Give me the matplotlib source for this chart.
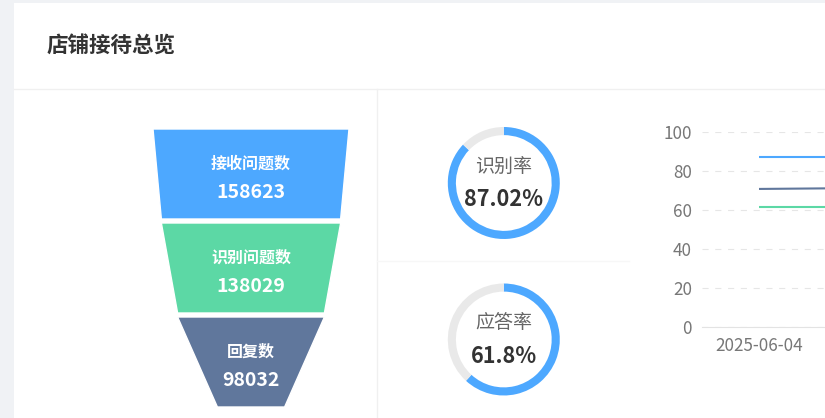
import matplotlib
matplotlib.use("Agg")  # no display in the sandbox
import matplotlib.pyplot as plt
from matplotlib.patches import Polygon, Rectangle

plt.rcParams['font.family'] = ['Noto Sans CJK SC', 'DejaVu Sans']

W, H = 825, 418

# --- Data ---
TITLE = "店铺接待总览"
funnel_labels = ["接收问题数", "识别问题数", "回复数"]
funnel_values = [158623, 138029, 98032]
rate_labels = ["识别率", "应答率"]
rate_values = [87.02, 61.8]
dates = ["2025-06-04", "2025-06-05"]
trend_recognize = [87.02, 87.02]
trend_other = [70.8, 71.3]
trend_reply = [61.4, 61.4]
y_ticks = [0, 20, 40, 60, 80, 100]

# --- Style ---
BLUE = "#4da8ff"
GREEN = "#5cd8a5"
SLATE = "#60779c"
TRACK = "#e9e9e9"
PAGE_BG = "#f0f2f5"
SEP = "#f0f0f0"
FUNNEL_MIN_FRAC = 0.343  # width of a zero value relative to the largest piece
FUNNEL_GAP = 4 / 94


def px_axes(fig, x0, y0, x1, y1):
    """Axes placed by pixel box (top-left origin)."""
    return fig.add_axes([x0 / W, 1 - y1 / H, (x1 - x0) / W, (y1 - y0) / H])


def funnel_width(v, vmax):
    return FUNNEL_MIN_FRAC + (1 - FUNNEL_MIN_FRAC) * v / vmax


fig = plt.figure(figsize=(W / 100, H / 100), dpi=100)
fig.patch.set_facecolor(PAGE_BG)

# page / card layout
bg = fig.add_axes([0, 0, 1, 1])
bg.set_xlim(0, W)
bg.set_ylim(H, 0)
bg.axis("off")
bg.add_patch(Rectangle((14, 3), W - 14, H - 3, facecolor="white", edgecolor="none"))
bg.plot([14, W], [88.5, 88.5], color=SEP, lw=1)
bg.plot([376.5, 376.5], [88.5, H], color=SEP, lw=1)
bg.plot([377, 629], [261, 261], color="#f7f7f7", lw=1)
bg.text(47, 45, TITLE, fontsize=15.5, weight="bold", color="#333333", va="center")

# --- Funnel ---
fa = px_axes(fig, 153, 129, 349, 411)
fa.set_xlim(-0.5, 0.5)
fa.set_ylim(len(funnel_values), 0)
fa.axis("off")
vmax = max(funnel_values)
colors = [BLUE, GREEN, SLATE]
for i, (lab, v) in enumerate(zip(funnel_labels, funnel_values)):
    top_w = funnel_width(v, vmax)
    nxt = funnel_values[i + 1] if i + 1 < len(funnel_values) else 0
    bot_w = funnel_width(nxt, vmax)
    y0, y1 = i, i + 1 - FUNNEL_GAP
    fa.add_patch(Polygon([(-top_w / 2, y0), (top_w / 2, y0), (bot_w / 2, y1), (-bot_w / 2, y1)],
                         closed=True, facecolor=colors[i], edgecolor="white", lw=1))
    yc = (y0 + y1) / 2
    fa.annotate(lab, (0, yc), xytext=(0, 10), textcoords="offset pixels",
                ha="center", va="center", fontsize=11.5, weight="bold", color="white")
    fa.annotate(str(v), (0, yc), xytext=(0, -18.5), textcoords="offset pixels",
                ha="center", va="center", fontsize=14, weight="bold", color="white")

# --- Rate rings ---
ring_centers = [(503.8, 183), (503.8, 339.5)]
R = 56
for (cx, cy), lab, v in zip(ring_centers, rate_labels, rate_values):
    ga = px_axes(fig, cx - R, cy - R, cx + R, cy + R)
    ga.pie([v, 100 - v], colors=[BLUE, TRACK], startangle=90, counterclock=False,
           radius=1, wedgeprops=dict(width=0.145, edgecolor="none"))
    ga.set_xlim(-1, 1)
    ga.set_ylim(-1, 1)
    ga.axis("off")
    ga.annotate(lab, (0, 0), xytext=(0, 16.5), textcoords="offset pixels",
                ha="center", va="center", fontsize=13.7, color="#666666")
    ga.annotate(f"{v:g}%", (0, 0), xytext=(0, -17), textcoords="offset pixels",
                ha="center", va="center", fontsize=15.6, weight="bold", color="#333333")

# --- Trend lines (panel runs past the right edge) ---
la = px_axes(fig, 702, 132, 930, 327)
x = list(range(len(dates)))
la.plot(x, trend_recognize, color=BLUE, lw=1.5, solid_capstyle="butt")
la.plot(x, trend_other, color=SLATE, lw=1.5, solid_capstyle="butt")
la.plot(x, trend_reply, color=GREEN, lw=1.5, solid_capstyle="butt")
la.set_xlim(-0.5, len(dates) - 0.5)
la.set_ylim(0, 100)
la.set_xticks(x)
la.set_xticklabels(dates)
la.set_yticks(y_ticks)
la.grid(axis="y", color="#e6e6e6", lw=0.8, dashes=(5.5, 6))
la.set_axisbelow(True)
for side in ("top", "right", "left"):
    la.spines[side].set_visible(False)
la.spines["bottom"].set_color("#e3e3e3")
la.tick_params(length=0, labelsize=12.3, labelcolor="#777777")
la.tick_params(axis="y", pad=7.2)
la.tick_params(axis="x", pad=7)
la.patch.set_alpha(0)

# date labels whose slot lies off the visible card are not drawn (as in the page)
fig.canvas.draw()
for lbl in la.get_xticklabels():
    if lbl.get_window_extent().x1 > W:
        lbl.set_visible(False)

fig.savefig("out.png", dpi=100, facecolor=fig.get_facecolor())
